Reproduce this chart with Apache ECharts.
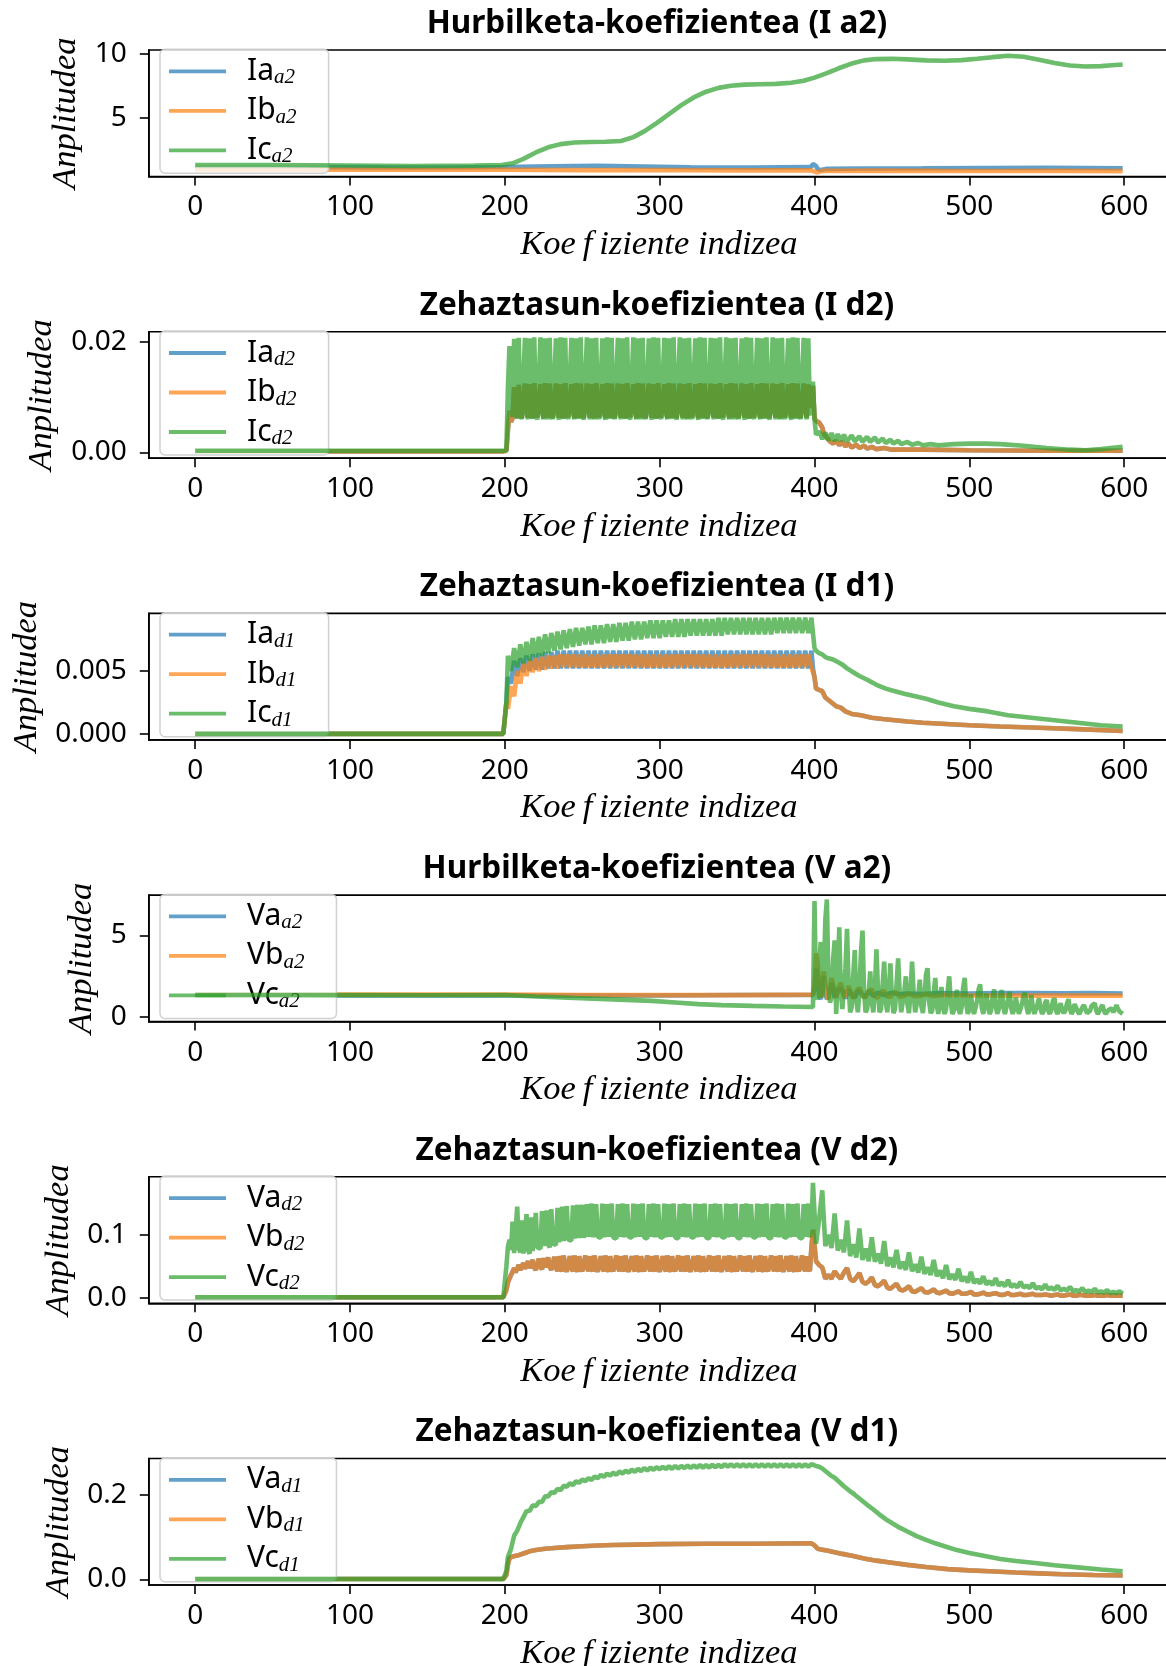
<!DOCTYPE html>
<html>
<head>
<meta charset="utf-8">
<script src="https://cdn.jsdelivr.net/npm/echarts@6/dist/echarts.min.js"></script>
<style>
  html, body { margin: 0; padding: 0; background: #fff; }
  #chart { width: 1166px; height: 1666px; }
</style>
</head>
<body>
<div id="chart"></div>
<script>
// ---------------------------------------------------------------
// Wavelet coefficients of the phase currents (I) and voltages (V):
// approximation level a2 and detail levels d2, d1, per sample index.
// Sparse readings are [index, value]; dense stretches are listed
// sample by sample and placed with run(start, step, values).
// ---------------------------------------------------------------
const xTickValues = [0, 100, 200, 300, 400, 500, 600];

const yTicksIa2 = [5, 10];
const yTicksId2 = [0, 0.02];
const yTicksId1 = [0, 0.005];
const yTicksVa2 = [0, 5];
const yTicksVd2 = [0, 0.1];
const yTicksVd1 = [0, 0.2];

function run(start, step, values) { return values.map((v, i) => [start + i * step, v]); }
function join(...parts) { return [].concat(...parts).sort((a, b) => a[0] - b[0]); }

// ---------- I a2 ----------
const iaA2 = [[0,1.16],[40,1.17],[80,1.15],[120,1.13],[160,1.12],[200,1.16],[230,1.22],[260,1.26],[290,1.2],[320,1.14],[360,1.12],[396,1.15],[398,1.2],[399,1.4],[400,1.5],[401,1.25],[402,1.0],[404,0.92],[408,1.02],[430,1.05],[470,1.06],[510,1.08],[550,1.1],[599,1.06]];
const ibA2 = [[0,0.97],[50,0.97],[100,0.96],[150,0.95],[200,0.95],[250,0.92],[300,0.93],[350,0.9],[398,0.9],[400,0.8],[402,0.74],[405,0.86],[440,0.88],[480,0.86],[520,0.85],[560,0.86],[599,0.84]];
const icA2 = [[0,1.32],[50,1.32],[100,1.28],[140,1.24],[180,1.27],[198,1.32],[205,1.45],[212,1.8],[220,2.3],[228,2.7],[236,2.95],[245,3.08],[255,3.12],[265,3.14],[275,3.2],[283,3.5],[290,3.95],[298,4.6],[306,5.3],[314,6.0],[322,6.6],[330,7.05],[338,7.35],[346,7.52],[355,7.6],[365,7.63],[375,7.66],[385,7.75],[393,7.9],[400,8.15],[408,8.5],[416,8.9],[424,9.25],[432,9.5],[440,9.6],[450,9.62],[460,9.58],[472,9.5],[484,9.47],[495,9.52],[505,9.62],[515,9.75],[525,9.86],[535,9.78],[545,9.55],[555,9.3],[565,9.1],[575,9.02],[585,9.05],[592,9.12],[599,9.18]];

// ---------- I d2 ----------
const ibD2Head = [[0,.0002],[199,.0002],[201,.0003],[202,.0040]];
const ibD2Osc = [
  .0075,.0055,.0062,.0118,.0080,.0063,.0122,.0082,.0062,.0064,
  .0124,.0082,.0063,.0123,.0081,.0062,.0125,.0083,.0063,.0064,
  .0123,.0081,.0062,.0125,.0083,.0063,.0124,.0082,.0062,.0065,
  .0124,.0082,.0063,.0123,.0081,.0062,.0125,.0083,.0063,.0064,
  .0123,.0081,.0062,.0125,.0083,.0063,.0124,.0082,.0062,.0065,
  .0124,.0082,.0063,.0123,.0081,.0062,.0125,.0083,.0063,.0064,
  .0123,.0081,.0062,.0125,.0083,.0063,.0124,.0082,.0062,.0065,
  .0124,.0082,.0063,.0123,.0081,.0062,.0125,.0083,.0063,.0064,
  .0123,.0081,.0062,.0125,.0083,.0063,.0124,.0082,.0062,.0065,
  .0124,.0082,.0063,.0123,.0081,.0062,.0125,.0083,.0063,.0064,
  .0123,.0081,.0062,.0125,.0083,.0063,.0124,.0082,.0062,.0065,
  .0124,.0082,.0063,.0123,.0081,.0062,.0125,.0083,.0063,.0064,
  .0123,.0081,.0062,.0125,.0083,.0063,.0124,.0082,.0062,.0065,
  .0124,.0082,.0063,.0123,.0081,.0062,.0125,.0083,.0063,.0064,
  .0123,.0081,.0062,.0125,.0083,.0063,.0124,.0082,.0062,.0065,
  .0124,.0082,.0063,.0123,.0081,.0062,.0125,.0083,.0063,.0064,
  .0123,.0081,.0062,.0125,.0083,.0063,.0124,.0082,.0062,.0065,
  .0124,.0082,.0063,.0123,.0081,.0062,.0125,.0083,.0063,.0064,
  .0123,.0081,.0062,.0125,.0083,.0063,.0124,.0082,.0062,.0065,
  .0124,.0082,.0063,.0123,.0081,.0090
];
const ibD2Tail = [[399,.0120],[400,.0062],[401,.0057],[403,.0054],[405,.0045],[406,.0034],[408,.0026],[410,.0020],[412,.0016],[414,.0021],[416,.0013],[418,.0019],[420,.0011],[422,.0016],[424,.0009],[427,.0014],[429,.0008],[432,.0012],[434,.0007],[437,.0010],[440,.0006],[445,.0008],[450,.0005],[470,.0005],[500,.0004],[550,.0003],[599,.0003]];
const icD2Head = [[0,.0003],[199,.0003],[201,.0004],[202,.0120]];
const icD2Osc = [
  .0192,.0090,.0064,.0205,.0072,.0061,.0207,.0070,.0060,.0063,
  .0207,.0071,.0060,.0206,.0073,.0061,.0208,.0070,.0059,.0062,
  .0208,.0072,.0060,.0206,.0071,.0060,.0207,.0073,.0060,.0062,
  .0206,.0070,.0059,.0208,.0072,.0061,.0207,.0071,.0060,.0063,
  .0207,.0071,.0060,.0206,.0073,.0061,.0208,.0070,.0059,.0062,
  .0208,.0072,.0060,.0206,.0071,.0060,.0207,.0073,.0060,.0062,
  .0206,.0070,.0059,.0208,.0072,.0061,.0207,.0071,.0060,.0063,
  .0207,.0071,.0060,.0206,.0073,.0061,.0208,.0070,.0059,.0062,
  .0208,.0072,.0060,.0206,.0071,.0060,.0207,.0073,.0060,.0062,
  .0206,.0070,.0059,.0208,.0072,.0061,.0207,.0071,.0060,.0063,
  .0207,.0071,.0060,.0206,.0073,.0061,.0208,.0070,.0059,.0062,
  .0208,.0072,.0060,.0206,.0071,.0060,.0207,.0073,.0060,.0062,
  .0206,.0070,.0059,.0208,.0072,.0061,.0207,.0071,.0060,.0063,
  .0207,.0071,.0060,.0206,.0073,.0061,.0208,.0070,.0059,.0062,
  .0208,.0072,.0060,.0206,.0071,.0060,.0207,.0073,.0060,.0062,
  .0206,.0070,.0059,.0208,.0072,.0061,.0207,.0071,.0060,.0063,
  .0207,.0071,.0060,.0206,.0073,.0061,.0208,.0070,.0059,.0062,
  .0208,.0072,.0060,.0206,.0071,.0060,.0207,.0073,.0060,.0062,
  .0206,.0070,.0059,.0208,.0072,.0061,.0207,.0071,.0060,.0063,
  .0207,.0071,.0060,.0206,.0072,.0068
];
const icD2Tail = [[399,.0128],[400,.0060],[401,.0032],[403,.0038],[405,.0024],[407,.0036],[409,.0022],[411,.0035],[413,.0021],[415,.0033],[417,.0021],[419,.0032],[421,.0020],[424,.0031],[426,.0020],[429,.0029],[431,.0019],[434,.0028],[436,.0019],[439,.0027],[441,.0018],[444,.0025],[446,.0017],[449,.0023],[451,.0016],[454,.0021],[456,.0015],[460,.0019],[463,.0014],[467,.0017],[470,.0013],[475,.0015],[480,.0013],[490,.0015],[500,.0016],[510,.0016],[520,.0015],[535,.0012],[550,.0008],[565,.0005],[575,.0004],[585,.0006],[599,.0010]];

// ---------- I d1 ----------
const d1IHead = [[0,.00002],[199,.00002],[200,.0001],[201,.0025]];
const iaD1Band = [
  .0045,.0040,.0058,.0046,.0060,.0049,.0062,.0050,.0063,.0051,
  .0064,.0051,.0065,.0052,.0065,.0052,.0066,.0052,.0066,.0052,
  .0066,.0052,.0066,.0052,.0066,.0052,.0066,.0052,.0066,.0052,
  .0066,.0052,.0066,.0052,.0066,.0052,.0066,.0052,.0066,.0052,
  .0066,.0052,.0066,.0052,.0066,.0052,.0066,.0052,.0066,.0052,
  .0066,.0052,.0066,.0052,.0066,.0052,.0066,.0052,.0066,.0052,
  .0066,.0052,.0066,.0052,.0066,.0052,.0066,.0052,.0066,.0052,
  .0066,.0052,.0066,.0052,.0066,.0052,.0066,.0052,.0066,.0052,
  .0066,.0052,.0066,.0052,.0066,.0052,.0066,.0052,.0066,.0052,
  .0066,.0052,.0066,.0052,.0066,.0052,.0066,.0052,.0066
];
const ibD1Band = [
  .0020,.0038,.0030,.0050,.0040,.0056,.0046,.0059,.0049,.0060,
  .0050,.0061,.0051,.0062,.0052,.0062,.0052,.0063,.0053,.0063,
  .0053,.0063,.0053,.0063,.0053,.0063,.0053,.0063,.0053,.0063,
  .0053,.0063,.0053,.0063,.0053,.0063,.0053,.0063,.0053,.0063,
  .0053,.0063,.0053,.0063,.0053,.0063,.0053,.0063,.0053,.0063,
  .0053,.0063,.0053,.0063,.0053,.0063,.0053,.0063,.0053,.0063,
  .0053,.0063,.0053,.0063,.0053,.0063,.0053,.0063,.0053,.0063,
  .0053,.0063,.0053,.0063,.0053,.0063,.0053,.0063,.0053,.0063,
  .0053,.0063,.0053,.0063,.0053,.0063,.0053,.0063,.0053,.0063,
  .0053,.0063,.0053,.0063,.0053,.0063,.0053,.0063,.0053
];
const abD1Tail = [[399,.0052],[400,.0045],[401,.0036],[403,.0035],[405,.0034],[407,.0029],[409,.0027],[411,.0025],[414,.0022],[417,.0021],[420,.0018],[424,.0016],[430,.0015],[437,.0013],[444,.0012],[452,.0011],[460,.0010],[470,.0009],[485,.0008],[500,.0007],[520,.0006],[545,.0005],[570,.0004],[599,.00025]];
const icD1Band = [
  .0062,.0050,.0068,.0053,.0071,.0056,.0073,.0058,.0076,.0061,
  .0077,.0062,.0079,.0064,.0080,.0066,.0081,.0067,.0082,.0068,
  .0083,.0069,.0084,.0070,.0084,.0071,.0085,.0071,.0086,.0072,
  .0086,.0072,.0087,.0073,.0087,.0073,.0088,.0074,.0088,.0074,
  .0089,.0075,.0089,.0075,.0089,.0076,.0090,.0076,.0090,.0076,
  .0090,.0077,.0090,.0077,.0091,.0077,.0091,.0077,.0091,.0078,
  .0091,.0078,.0091,.0078,.0091,.0078,.0091,.0078,.0092,.0078,
  .0092,.0079,.0092,.0079,.0092,.0079,.0092,.0079,.0092,.0079,
  .0092,.0079,.0092,.0079,.0092,.0079,.0092,.0080,.0092,.0080,
  .0092,.0080,.0092,.0080,.0092,.0080,.0092,.0080,.0092
];
const icD1Tail = [[399,.0080],[400,.0068],[401,.0066],[403,.0064],[405,.0063],[407,.0061],[409,.0060],[412,.0059],[415,.0057],[418,.0055],[421,.0052],[425,.0049],[429,.0046],[434,.0043],[440,.0039],[446,.0036],[452,.0034],[458,.0032],[465,.0030],[472,.0028],[480,.0025],[490,.0022],[500,.0020],[512,.0018],[525,.0015],[540,.0013],[555,.0011],[570,.0009],[585,.0007],[599,.0006]];

// ---------- V a2 ----------
const vaA2 = [[0,1.34],[100,1.33],[200,1.33],[250,1.32],[300,1.33],[350,1.36],[399,1.36],[400,1.8],[401,3.0],[402,2.4],[403,1.3],[404,1.1],[405,2.0],[406,2.5],[407,1.6],[408,1.1],[409,1.0],[410,1.6],[411,2.1],[412,1.9],[413,1.2],[414,1.1],[416,1.8],[418,1.6],[420,1.15],[422,1.7],[424,1.4],[426,1.2],[428,1.6],[430,1.5],[432,1.2],[435,1.6],[438,1.3],[441,1.5],[445,1.35],[450,1.5],[455,1.4],[460,1.45],[470,1.42],[480,1.47],[500,1.45],[520,1.47],[540,1.48],[560,1.46],[580,1.47],[599,1.45]];
const vbA2 = [[0,1.38],[100,1.38],[200,1.38],[250,1.36],[300,1.35],[350,1.35],[399,1.38],[400,2.0],[401,3.9],[402,3.4],[403,1.6],[404,1.2],[405,2.2],[406,2.8],[407,2.0],[408,1.3],[409,1.1],[410,1.8],[411,2.4],[412,2.3],[413,1.5],[414,1.2],[415,1.3],[416,1.9],[417,2.1],[418,1.7],[419,1.2],[420,1.1],[421,1.5],[422,1.9],[423,1.8],[424,1.3],[425,1.15],[427,1.6],[429,1.8],[431,1.3],[433,1.2],[435,1.6],[437,1.7],[439,1.25],[441,1.2],[443,1.55],[445,1.6],[447,1.25],[449,1.25],[451,1.5],[453,1.5],[455,1.25],[458,1.3],[461,1.45],[464,1.3],[468,1.3],[472,1.42],[476,1.3],[485,1.36],[500,1.33],[550,1.32],[599,1.32]];
const vcA2Head = [[0,1.36],[50,1.36],[100,1.35],[150,1.34],[200,1.36],[220,1.27],[245,1.17],[270,1.09],[295,1.0],[310,0.9],[325,0.8],[340,0.74],[360,0.69],[380,0.65],[399,0.62]];
const vcA2Tail = [
  7.1, 1.3, 1.1, 3.0, 4.6, 1.2, 2.5, 6.0, 7.2, 2.0,
  0.9, 1.2, 3.5, 4.7, 0.2, 2.5, 5.5, 1.5, 0.5, 0.4,
  3.0, 5.4, 2.0, 0.3, 0.6, 2.5, 4.1, 1.0, 0.3, 1.5,
  4.0, 5.3, 1.5, 0.3, 0.5, 1.5, 2.8, 0.9, 0.3, 1.8,
  4.15, 1.6, 0.3, 0.5, 2.0, 3.4, 1.0, 0.3, 1.5, 3.3,
  1.2, 0.25, 0.5, 2.0, 3.6, 1.5, 0.3, 0.4, 1.6, 2.5,
  0.8, 0.25, 1.5, 3.4, 1.5, 0.3, 0.35, 1.3, 2.3, 0.7,
  0.25, 1.2, 2.6, 3.0, 1.0, 0.25, 0.4, 1.5, 2.4, 0.7,
  0.2, 1.0, 1.85, 0.6, 0.2, 0.5, 1.6, 2.5, 1.0, 0.2,
  0.4, 1.2, 1.67, 0.5, 0.2, 0.6, 1.8, 2.4, 0.8, 0.2,
  0.5, 1.4, 0.6, 0.2, 0.3, 1.0, 1.7, 2.0, 0.6, 0.2,
  0.7, 1.45, 0.8, 0.2, 0.4, 1.2, 1.7, 0.7, 0.2, 0.5,
  1.3, 1.65, 0.6, 0.2, 0.3, 1.1, 1.56, 0.6, 0.2, 0.5,
  1.2, 0.7, 0.2, 0.3, 0.8, 1.3, 1.5, 0.6, 0.2, 0.6,
  1.35, 0.6, 0.2, 0.3, 0.8, 1.15, 0.5, 0.2, 0.4, 0.9,
  1.05, 0.4, 0.2, 0.5, 1.0, 1.15, 0.4, 0.2, 0.6, 0.85,
  0.4, 0.25, 0.4, 0.8, 1.1, 0.5, 0.2, 0.4, 0.8, 0.85,
  0.35, 0.2, 0.3, 0.6, 0.74, 0.5, 0.25, 0.2, 0.4, 0.7,
  0.8, 0.85, 0.4, 0.2, 0.3, 0.6, 0.74, 0.4, 0.2, 0.3,
  0.45, 0.5, 0.54, 0.3, 0.5, 0.74, 0.5, 0.35, 0.3, 0.2
];

// ---------- V d2 ----------
const vbD2Head = [[0,.0005],[199,.0005],[200,.001],[201,.012],[202,.024]];
const vbD2Osc = [
  .030,.036,.041,.047,.040,.038,.052,.044,.041,.055,
  .046,.043,.058,.047,.044,.060,.048,.044,.045,.062,
  .049,.045,.063,.048,.045,.064,.049,.044,.045,.065,
  .048,.042,.066,.047,.042,.067,.048,.041,.043,.066,
  .047,.042,.067,.048,.041,.066,.047,.042,.042,.067,
  .048,.042,.066,.047,.042,.067,.048,.041,.043,.066,
  .047,.042,.067,.048,.041,.066,.047,.042,.042,.067,
  .048,.042,.066,.047,.042,.067,.048,.041,.043,.066,
  .047,.042,.067,.048,.041,.066,.047,.042,.042,.067,
  .048,.042,.066,.047,.042,.067,.048,.041,.043,.066,
  .047,.042,.067,.048,.041,.066,.047,.042,.042,.067,
  .048,.042,.066,.047,.042,.067,.048,.041,.043,.066,
  .047,.042,.067,.048,.041,.066,.047,.042,.042,.067,
  .048,.042,.066,.047,.042,.067,.048,.041,.043,.066,
  .047,.042,.067,.048,.041,.066,.047,.042,.042,.067,
  .048,.042,.066,.047,.042,.067,.048,.041,.043,.066,
  .047,.042,.067,.048,.041,.066,.047,.042,.042,.067,
  .048,.042,.066,.047,.042,.067,.048,.041,.043,.066,
  .047,.042,.067,.048,.041,.066,.047,.042,.042,.067,
  .048,.042,.066,.047,.042,.080
];
const vbD2Tail = [
  .108,.058,.052,.048,.030,.036,.030,.042,.035,.030,
  .040,.047,.030,.026,.032,.039,.025,.022,.026,.032,
  .020,.018,.022,.027,.016,.014,.018,.022,.013,.011,
  .014,.018,.010,.009,.012,.015,.009,.008,.010,.013,
  .008,.007,.009,.011,.007,.006,.008,.010,.006,.006,
  .007,.009,.005,.005,.006,.008,.005,.005,.006,.007,
  .005,.004,.005,.007,.004,.004,.005,.006,.004,.004,
  .005,.006,.004,.004,.004,.005,.004,.003,.004,.005,
  .003,.003,.004,.005,.003,.003,.004,.004,.003,.003,
  .003,.004,.003,.003,.003,.004,.003,.003,.003,.003,
  .003
];
const vcD2Head = [[0,.0005],[199,.0005],[200,.002],[201,.050],[202,.081]];
const vcD2Osc = [
  .092,.076,.121,.071,.068,.145,.078,.072,.123,.070,
  .069,.133,.075,.070,.128,.074,.071,.135,.080,.077,
  .078,.138,.082,.079,.139,.084,.080,.141,.086,.083,
  .084,.143,.088,.086,.145,.090,.088,.146,.092,.090,
  .091,.147,.094,.092,.148,.095,.093,.148,.095,.094,
  .149,.097,.095,.150,.096,.095,.149,.097,.094,.095,
  .150,.096,.094,.149,.097,.095,.150,.096,.095,.094,
  .149,.097,.095,.150,.096,.095,.149,.097,.094,.095,
  .150,.096,.094,.149,.097,.095,.150,.096,.095,.094,
  .149,.097,.095,.150,.096,.095,.149,.097,.094,.095,
  .150,.096,.094,.149,.097,.095,.150,.096,.095,.094,
  .149,.097,.095,.150,.096,.095,.149,.097,.094,.095,
  .150,.096,.094,.149,.097,.095,.150,.096,.095,.094,
  .149,.097,.095,.150,.096,.095,.149,.097,.094,.095,
  .150,.096,.094,.149,.097,.095,.150,.096,.095,.094,
  .149,.097,.095,.150,.096,.095,.149,.097,.094,.095,
  .150,.096,.094,.149,.097,.095,.150,.096,.095,.094,
  .149,.097,.095,.150,.096,.095,.149,.097,.094,.095,
  .150,.096,.094,.149,.097,.095,.150,.096,.095,.094,
  .149,.097,.095,.150,.096,.110
];
const vcD2Tail = [
  .183,.086,.125,.171,.082,.100,.079,.134,.075,.092,
  .072,.123,.066,.085,.064,.110,.060,.078,.058,.096,
  .057,.070,.054,.090,.050,.064,.048,.076,.046,.057,
  .044,.072,.042,.053,.040,.065,.038,.048,.036,.060,
  .034,.043,.031,.052,.029,.037,.028,.046,.026,.033,
  .024,.041,.023,.029,.022,.034,.021,.026,.020,.031,
  .019,.024,.018,.028,.017,.021,.016,.025,.016,.019,
  .015,.023,.014,.017,.013,.021,.013,.016,.012,.019,
  .011,.014,.011,.017,.010,.012,.010,.015,.009,.011,
  .009,.014,.008,.010,.008,.012,.007,.009,.007,.010,
  .006
];

// ---------- V d1 ----------
const abD1V = [[0,.0005],[199,.0005],[200,.001],[201,.010],[202,.035],[203,.050],[205,.054],[208,.056],[212,.061],[216,.066],[220,.069],[226,.072],[232,.074],[240,.076],[250,.078],[260,.080],[270,.081],[285,.082],[300,.083],[330,.084],[360,.084],[398,.085],[400,.080],[402,.072],[405,.070],[408,.068],[413,.064],[418,.060],[425,.055],[432,.049],[440,.044],[450,.039],[460,.034],[472,.029],[486,.024],[500,.021],[513,.019],[530,.016],[545,.014],[560,.012],[580,.010],[599,.009]];
const vcD1Head = [[0,.0005],[199,.0005],[200,.001],[201,.020]];
const vcD1Band = [
  .053,.072,.103,.115,.133,.147,.161,.162,.175,.173,
  .183,.183,.196,.196,.206,.204,.214,.211,.221,.219,
  .227,.223,.232,.228,.236,.232,.239,.235,.243,.239,
  .247,.242,.250,.245,.252,.247,.255,.250,.257,.252,
  .259,.254,.261,.256,.263,.257,.264,.259,.265,.260,
  .266,.261,.267,.261,.268,.262,.268,.263,.269,.263,
  .269,.264,.270,.264,.270,.264,.271,.265,.271,.265,
  .272,.266,.272,.266,.272,.266,.272,.266,.272,.266,
  .272,.266,.272,.266,.272,.266,.272,.266,.272,.266,
  .272,.266,.272,.266,.272,.266,.272,.266,.272
];
const vcD1Tail = [[399,.271],[401,.268],[403,.266],[405,.262],[407,.256],[409,.250],[411,.244],[413,.240],[416,.230],[419,.220],[422,.211],[426,.200],[430,.188],[434,.176],[438,.165],[442,.153],[446,.142],[450,.133],[455,.122],[460,.113],[466,.102],[472,.093],[478,.085],[485,.077],[492,.069],[500,.062],[510,.055],[520,.048],[530,.043],[541,.039],[555,.033],[570,.028],[585,.023],[599,.019]];

// ---------- assembled series per panel ----------
const ibD2 = join(ibD2Head, run(203, 1, ibD2Osc), ibD2Tail);
const iaD2 = ibD2;
const icD2 = join(icD2Head, run(203, 1, icD2Osc), icD2Tail);
const iaD1 = join(d1IHead, run(202, 2, iaD1Band), abD1Tail);
const ibD1 = join(d1IHead, run(202, 2, ibD1Band), abD1Tail);
const icD1 = join(d1IHead, run(202, 2, icD1Band), icD1Tail);
const vcA2 = join(vcA2Head, run(400, 1, vcA2Tail));
const vbD2 = join(vbD2Head, run(203, 1, vbD2Osc), run(399, 2, vbD2Tail));
const vaD2 = vbD2;
const vcD2 = join(vcD2Head, run(203, 1, vcD2Osc), run(399, 2, vcD2Tail));
const vaD1 = abD1V;
const vbD1 = abD1V;
const vcD1 = join(vcD1Head, run(202, 2, vcD1Band), vcD1Tail);

const panels = [
  { title: 'Hurbilketa-koefizientea (I a2)', names: ['Ia_a2', 'Ib_a2', 'Ic_a2'], data: [iaA2, ibA2, icA2], yMin: 0.42, yMax: 10.31, ticks: yTicksIa2, digits: 0, nameGap: 61 },
  { title: 'Zehaztasun-koefizientea (I d2)', names: ['Ia_d2', 'Ib_d2', 'Ic_d2'], data: [iaD2, ibD2, icD2], yMin: -0.00104, yMax: 0.0218, ticks: yTicksId2, digits: 2, nameGap: 89 },
  { title: 'Zehaztasun-koefizientea (I d1)', names: ['Ia_d1', 'Ib_d1', 'Ic_d1'], data: [iaD1, ibD1, icD1], yMin: -0.000455, yMax: 0.00955, ticks: yTicksId1, digits: 3, nameGap: 104 },
  { title: 'Hurbilketa-koefizientea (V a2)', names: ['Va_a2', 'Vb_a2', 'Vc_a2'], data: [vaA2, vbA2, vcA2], yMin: -0.27, yMax: 7.47, ticks: yTicksVa2, digits: 0, nameGap: 46 },
  { title: 'Zehaztasun-koefizientea (V d2)', names: ['Va_d2', 'Vb_d2', 'Vc_d2'], data: [vaD2, vbD2, vcD2], yMin: -0.0092, yMax: 0.1926, ticks: yTicksVd2, digits: 1, nameGap: 70 },
  { title: 'Zehaztasun-koefizientea (V d1)', names: ['Va_d1', 'Vb_d1', 'Vc_d1'], data: [vaD1, vbD1, vcD1], yMin: -0.0136, yMax: 0.2856, ticks: yTicksVd1, digits: 1, nameGap: 72 }
];

// ---------- layout ----------
const PLOT_LEFT = 148.8, PLOT_WIDTH = 1020.2;
const FIRST_TOP = 50, PANEL_STEP = 281.7, PANEL_HEIGHT = 126.5;
const X_MIN = -29.95, X_MAX = 628.95;
const COLORS = ['#1f77b4', '#ff7f0e', '#2ca02c'];
const SANS = "'Noto Sans', sans-serif";
const MATH = "'Liberation Serif', serif";
const AXIS_COLOR = '#000';
const LINE_WIDTH = 4.6;
const X_NAME = 'Koe\u2009f\u2009iziente indizea';

const option = {
  animation: false,
  backgroundColor: '#fff',
  textStyle: { fontFamily: SANS },
  title: [], grid: [], xAxis: [], yAxis: [], legend: [], series: []
};

panels.forEach((p, k) => {
  const top = FIRST_TOP + k * PANEL_STEP;
  option.title.push({
    text: p.title, left: PLOT_LEFT + PLOT_WIDTH / 2 - 2, top: top - 26,
    textAlign: 'center', textVerticalAlign: 'middle', padding: 0,
    textStyle: { fontFamily: SANS, fontWeight: 'bold', fontSize: 31.5, color: '#000' }
  });
  option.grid.push({
    left: PLOT_LEFT, top: top, width: PLOT_WIDTH, height: PANEL_HEIGHT,
    show: true, borderColor: AXIS_COLOR, borderWidth: 1.6, backgroundColor: 'transparent',
    containLabel: false, outerBoundsMode: 'none'
  });
  option.xAxis.push({
    gridIndex: k, type: 'value', min: X_MIN, max: X_MAX,
    axisLine: { show: true, onZero: false, lineStyle: { color: AXIS_COLOR, width: 1.6 } },
    axisTick: { show: true, customValues: xTickValues, length: 9, lineStyle: { color: AXIS_COLOR, width: 1.6 } },
    axisLabel: { customValues: xTickValues, margin: 17, color: '#000', fontSize: 28, fontFamily: SANS },
    splitLine: { show: false },
    name: X_NAME, nameLocation: 'middle', nameGap: 51,
    nameTextStyle: { fontFamily: MATH, fontStyle: 'italic', fontSize: 34.5, color: '#000' }
  });
  option.yAxis.push({
    gridIndex: k, type: 'value', min: p.yMin, max: p.yMax,
    axisLine: { show: true, onZero: false, lineStyle: { color: AXIS_COLOR, width: 1.6 } },
    axisTick: { show: true, customValues: p.ticks, length: 9, lineStyle: { color: AXIS_COLOR, width: 1.6 } },
    axisLabel: { customValues: p.ticks, margin: 22, color: '#000', fontSize: 28, fontFamily: SANS,
                 formatter: v => Number(v).toFixed(p.digits) },
    splitLine: { show: false },
    name: 'Anplitudea', nameLocation: 'middle', nameRotate: 90, nameGap: p.nameGap,
    nameTextStyle: { fontFamily: MATH, fontStyle: 'italic', fontSize: 34.5, color: '#000' }
  });
  option.legend.push({
    orient: 'vertical', left: 160, top: top - 0.7,
    data: p.names.map(n => ({ name: n, icon: 'rect' })), selectedMode: false,
    itemWidth: 57, itemHeight: 3.8, itemGap: 7.5,
    padding: [7, 32, 6, 9],
    backgroundColor: 'rgba(255,255,255,0.8)', borderColor: 'rgba(204,204,204,0.9)',
    borderWidth: 1.5, borderRadius: 5,
    itemStyle: { opacity: 0.7, borderWidth: 0 },
    formatter: name => { const [m, s] = name.split('_'); return `{m|${m}}{s|${s}}`; },
    textStyle: {
      padding: [0, 0, 0, 16],
      rich: {
        m: { fontFamily: SANS, fontSize: 30, lineHeight: 34, color: '#000' },
        s: { fontFamily: MATH, fontStyle: 'italic', fontSize: 21, lineHeight: 22, verticalAlign: 'bottom', color: '#000' }
      }
    }
  });
  p.names.forEach((name, j) => {
    option.series.push({
      type: 'line', name: name, xAxisIndex: k, yAxisIndex: k,
      data: p.data[j], symbol: 'none', showSymbol: false, silent: true,
      z: 2 + j,
      lineStyle: { color: COLORS[j], width: LINE_WIDTH, opacity: 0.7 },
      itemStyle: { color: COLORS[j], opacity: 0.7 },
      emphasis: { disabled: true }
    });
  });
});

const chart = echarts.init(document.getElementById('chart'), null, { renderer: 'canvas' });
chart.setOption(option);
</script>
</body>
</html>
